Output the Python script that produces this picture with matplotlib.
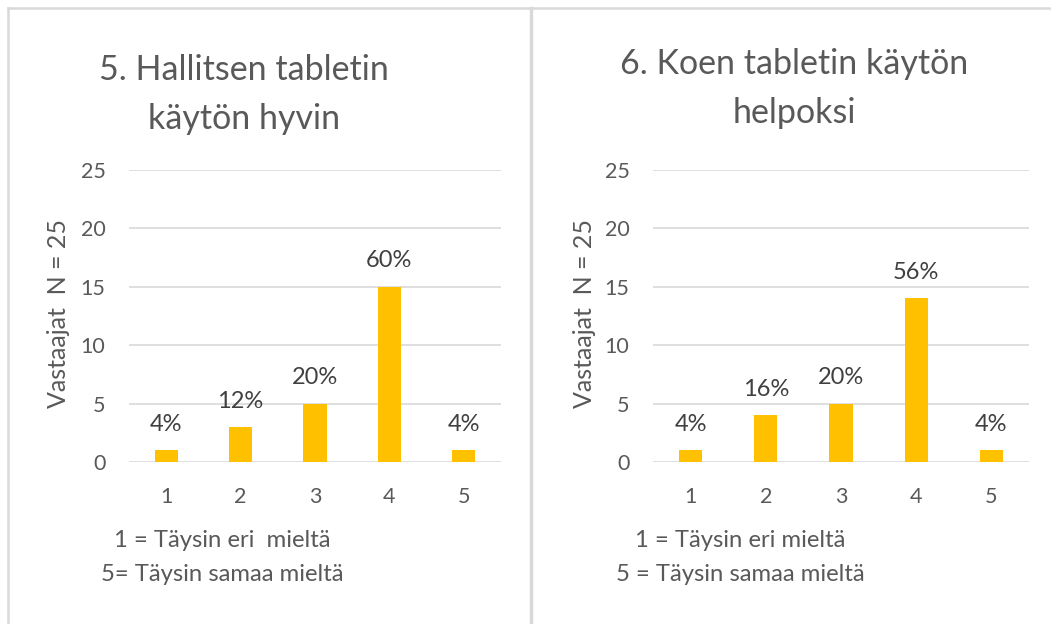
import matplotlib
matplotlib.use("Agg")
import matplotlib.pyplot as plt
from matplotlib.lines import Line2D

plt.rcParams['font.family'] = ['Lato', 'DejaVu Sans']

W, H = 1051, 624

categories = [1, 2, 3, 4, 5]
left_values = [1, 3, 5, 15, 1]
left_labels = ["4%", "12%", "20%", "60%", "4%"]
right_values = [1, 4, 5, 14, 1]
right_labels = ["4%", "16%", "20%", "56%", "4%"]
yticks = [0, 5, 10, 15, 20, 25]

left_title = ["5. Hallitsen tabletin", "käytön hyvin"]
right_title = ["6. Koen tabletin käytön", "helpoksi"]
left_note = ["1 = Täysin eri  mieltä", "5= Täysin samaa mieltä"]
right_note = ["1 = Täysin eri mieltä", "5 = Täysin samaa mieltä"]
ylabel = "Vastaajat  N = 25"

GREY = "#595959"
DARK = "#404040"
GRID = "#d9d9d9"
BAR = "#FFC000"


def fx(x):
    return x / W


def fy(y):
    return 1 - y / H


fig = plt.figure(figsize=(W / 100, H / 100), dpi=100)

# panel frames
fig.add_artist(Line2D([fx(8), fx(8)], [fy(8), 0], color=GRID, lw=1.8))
fig.add_artist(Line2D([fx(8), 1], [fy(8), fy(8)], color=GRID, lw=1.8))
fig.add_artist(Line2D([fx(531), fx(531)], [fy(8), 0], color=GRID, lw=2.5))


def panel(x0, x1, values, labels, title, title_x, title_y, note, note_x, ylab_x):
    ax = fig.add_axes([fx(x0), fy(462), fx(x1 - x0), (462 - 170) / H])
    ax.bar(categories, values, width=0.31, color=BAR, zorder=3)
    ax.set_xlim(0.5, 5.5)
    ax.set_ylim(0, 25)
    ax.set_yticks(yticks)
    ax.set_xticks(categories)
    ax.yaxis.grid(True, color=GRID, lw=1.2, zorder=0)
    ax.set_axisbelow(True)
    for s in ax.spines.values():
        s.set_visible(False)
    ax.tick_params(length=0, colors=GREY, labelsize=15.5)
    ax.tick_params(axis='y', pad=17)
    ax.tick_params(axis='x', pad=18)
    for c, v, lab in zip(categories, values, labels):
        ax.annotate(lab, (c, v), xytext=(0, 14), textcoords='offset points',
                    ha='center', va='baseline', fontsize=17, color=DARK)
    for i, line in enumerate(title):
        fig.text(fx(title_x), fy(title_y + 49 * i), line, ha='center', va='baseline',
                 fontsize=24.5, color=GREY)
    fig.text(fx(ylab_x), fy(314), ylabel, rotation=90, ha='center', va='center',
             fontsize=18, color=GREY)
    for (nx, line), ny in zip(zip(note_x, note), [547, 581]):
        fig.text(fx(nx), fy(ny), line, ha='center', va='baseline', fontsize=17.2, color=GREY)
    return ax


panel(129, 501, left_values, left_labels, left_title, 244, 80,
      left_note, [222, 222], 58)
panel(653, 1029, right_values, right_labels, right_title, 794, 74,
      right_note, [740, 740], 584)

fig.savefig("out.png", dpi=100)
